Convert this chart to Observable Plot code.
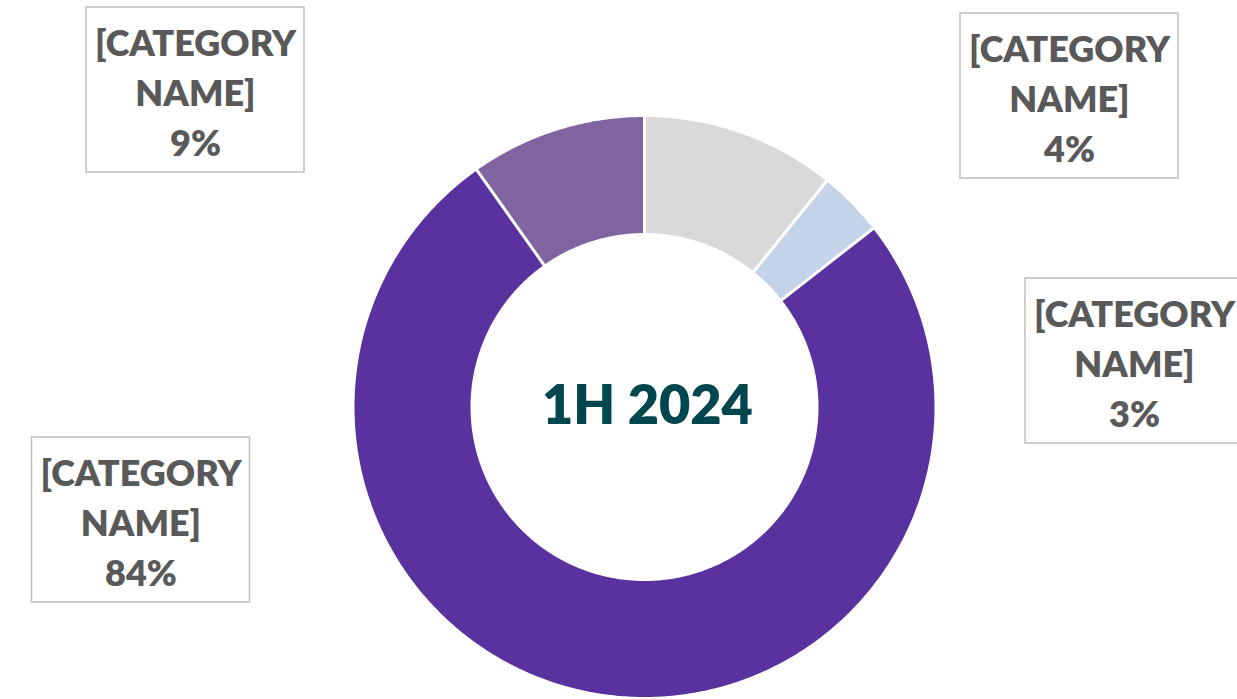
<!DOCTYPE html>
<html><head><meta charset="utf-8">
<script src="https://cdn.jsdelivr.net/npm/d3@7"></script>
<script src="https://cdn.jsdelivr.net/npm/@observablehq/plot@0.6"></script>
<style>
html,body{margin:0;padding:0;background:#fff;overflow:hidden}
</style></head><body><div id="chart"></div>
<script>
// ---- data ----
const sliceNames = ["Gray", "Light blue", "Purple", "Lavender"];
const sliceValues = [10.8, 3.65, 75.75, 9.8];
const sliceColors = ["#d9d9d9", "#c3d3e8", "#5a32a0", "#7f649f"];
const labelCategories = ["[CATEGORY\nNAME]", "[CATEGORY\nNAME]", "[CATEGORY\nNAME]", "[CATEGORY\nNAME]"];
const labelPercents = ["9%", "4%", "3%", "84%"];
const centerTitle = "1H 2024";

// ---- layout ----
const W = 1237, H = 699;
const cx = 644, cy = 406.5, R = 290, rInner = 174;
const k = rInner / R;
// label box centers in pixels (box size 218x165)
const boxW = 218, boxH = 165;
const boxCenters = [[195, 89.5], [1069, 95.5], [1134, 360.5], [140.5, 519.5]];
const px = (x) => (x - cx) / R;
const py = (y) => (cy - y) / R;

// slices
const total = d3.sum(sliceValues);
let acc = 0;
const slices = sliceValues.map((v, i) => {
  const a0 = acc / total * 2 * Math.PI;
  acc += v;
  const a1 = acc / total * 2 * Math.PI;
  return {name: sliceNames[i], color: sliceColors[i], a0, a1};
});
const pts = [];
for (const s of slices) {
  const n = Math.max(8, Math.ceil((s.a1 - s.a0) / 0.01));
  for (let j = 0; j <= n; j++) {
    const a = s.a0 + (s.a1 - s.a0) * j / n;
    pts.push({slice: s.name, color: s.color, x: Math.sin(a), y: Math.cos(a)});
  }
  for (let j = n; j >= 0; j--) {
    const a = s.a0 + (s.a1 - s.a0) * j / n;
    pts.push({slice: s.name, color: s.color, x: k * Math.sin(a), y: k * Math.cos(a)});
  }
}
const seps = slices.map(s => ({
  x1: k * Math.sin(s.a0) * 0.98, y1: k * Math.cos(s.a0) * 0.98,
  x2: Math.sin(s.a0) * 1.02, y2: Math.cos(s.a0) * 1.02
}));

const labels = labelPercents.map((p, i) => ({
  text: labelCategories[i] + "\n" + p,
  x: px(boxCenters[i][0]), y: py(boxCenters[i][1]),
  x1: px(boxCenters[i][0] - boxW / 2), x2: px(boxCenters[i][0] + boxW / 2),
  y1: py(boxCenters[i][1] - boxH / 2), y2: py(boxCenters[i][1] + boxH / 2)
}));

const chart = Plot.plot({
  width: W, height: H,
  margin: 0,
  x: {domain: [px(0), px(W)], axis: null},
  y: {domain: [py(H), py(0)], axis: null},
  color: {type: "identity"},
  style: {background: "#fff"},
  marks: [
    Plot.line(pts, {x: "x", y: "y", z: "slice", fill: "color", stroke: "none", curve: "linear"}),
    Plot.link(seps, {x1: "x1", y1: "y1", x2: "x2", y2: "y2", stroke: "white", strokeWidth: 3}),
    Plot.rect(labels, {x1: "x1", x2: "x2", y1: "y1", y2: "y2", fill: "white", stroke: "#bfbfbf", strokeWidth: 1.5}),
    Plot.text(labels, {x: "x", y: "y", text: "text", fontSize: 36, lineHeight: 1.39, fontWeight: 800, fill: "#595959", fontFamily: "Lato"}),
    Plot.text([centerTitle], {x: () => 0.01, y: () => 0, text: d => d, fontSize: 54, fontWeight: 800, fill: "#00464f", fontFamily: "Lato"})
  ]
});
document.getElementById("chart").appendChild(chart);
</script></body></html>
